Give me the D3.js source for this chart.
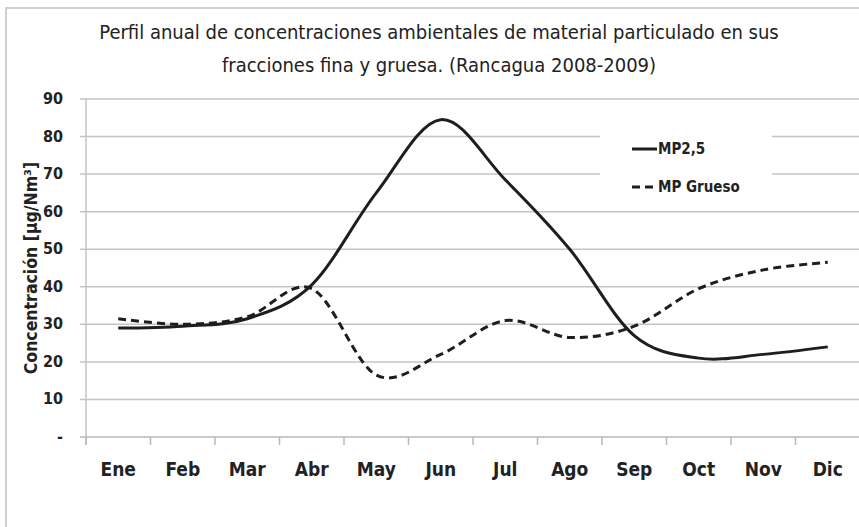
<!DOCTYPE html>
<meta charset="utf-8">
<script src="https://d3js.org/d3.v7.min.js"></script>
<style>
  body { margin: 0; background: #fff; }
  text { font-family: "DejaVu Sans Condensed", "DejaVu Sans", sans-serif; fill: #222; }
</style>
<div id="chart"></div>
<script>
  // data
  const months = ["Ene", "Feb", "Mar", "Abr", "May", "Jun", "Jul", "Ago", "Sep", "Oct", "Nov", "Dic"];
  const mp25 = [29, 29.5, 31.5, 40.5, 65, 84.5, 68.5, 50, 27, 21, 22, 24];
  const mpGrueso = [31.5, 30, 32, 39.5, 16.5, 22, 31, 26.5, 29.5, 39.5, 44.5, 46.5];
  const yTicks = [0, 10, 20, 30, 40, 50, 60, 70, 80, 90];
  const titleLines = ["Perfil anual de concentraciones ambientales de material particulado en sus",
                      "fracciones fina y gruesa. (Rancagua 2008-2009)"];

  const W = 859, H = 527;
  const margin = {top: 99, left: 86, bottom: 90};
  const plotW = 774; // runs past the right edge like the original

  const svg = d3.select("#chart").append("svg")
      .attr("width", W)
      .attr("height", H);

  // outer chart area border
  svg.append("rect")
    .attr("x", 6).attr("y", 8)
    .attr("width", W + 20).attr("height", H + 20)
    .attr("fill", "none")
    .attr("stroke", "#d0d0d0")
    .attr("stroke-width", 2);

  const x = d3.scaleBand()
    .domain(months)
    .range([margin.left, margin.left + plotW]);

  const y = d3.scaleLinear()
    .domain([0, 90])
    .range([H - margin.bottom, margin.top]);

  // gridlines
  svg.append("g")
    .selectAll("line")
    .data(yTicks.slice(1))
    .join("line")
      .attr("x1", margin.left - 6)
      .attr("x2", margin.left + plotW)
      .attr("y1", d => y(d))
      .attr("y2", d => y(d))
      .attr("stroke", "#c4c4c4")
      .attr("stroke-width", 1.5);

  // y axis
  svg.append("line")
    .attr("x1", margin.left).attr("x2", margin.left)
    .attr("y1", y(90)).attr("y2", y(0) + 8)
    .attr("stroke", "#c4c4c4").attr("stroke-width", 1.5);

  svg.append("g")
    .selectAll("text")
    .data(yTicks)
    .join("text")
      .attr("x", margin.left - 23)
      .attr("y", d => y(d) + 5)
      .attr("text-anchor", "end")
      .style("font-size", "16px")
      .style("font-weight", "bold")
      .text(d => d === 0 ? "-" : d);

  // x axis
  svg.append("line")
    .attr("x1", margin.left - 6).attr("x2", margin.left + plotW)
    .attr("y1", y(0)).attr("y2", y(0))
    .attr("stroke", "#b8b8b8").attr("stroke-width", 1.5);

  svg.append("g")
    .selectAll("line")
    .data(months)
    .join("line")
      .attr("x1", d => x(d)).attr("x2", d => x(d))
      .attr("y1", y(0)).attr("y2", y(0) + 8)
      .attr("stroke", "#b8b8b8").attr("stroke-width", 1.5);

  svg.append("g")
    .selectAll("text")
    .data(months)
    .join("text")
      .attr("x", d => x(d) + x.bandwidth() / 2)
      .attr("y", y(0) + 39)
      .attr("text-anchor", "middle")
      .style("font-size", "19px")
      .style("font-weight", "bold")
      .text(d => d);

  // y label
  svg.append("text")
    .attr("transform", `translate(37,${(y(0) + y(90)) / 2}) rotate(-90)`)
    .attr("text-anchor", "middle")
    .style("font-size", "17.5px")
    .style("font-weight", "bold")
    .text("Concentración [µg/Nm³]");

  // title
  svg.append("g")
    .selectAll("text")
    .data(titleLines)
    .join("text")
      .attr("x", 439)
      .attr("y", (d, i) => 39 + i * 33)
      .attr("text-anchor", "middle")
      .style("font-size", "20px")
      .text(d => d);

  // legend box (white, hides gridlines)
  svg.append("rect")
    .attr("x", 600).attr("y", 124)
    .attr("width", 172).attr("height", 82)
    .attr("fill", "#fff");

  const line = d3.line()
    .x((d, i) => x(months[i]) + x.bandwidth() / 2)
    .y(d => y(d))
    .curve(d3.curveCardinal.tension(0));

  svg.append("path")
    .datum(mp25)
    .attr("d", line)
    .attr("fill", "none")
    .attr("stroke", "#1e1e1e")
    .attr("stroke-width", 3);

  svg.append("path")
    .datum(mpGrueso)
    .attr("d", line)
    .attr("fill", "none")
    .attr("stroke", "#1e1e1e")
    .attr("stroke-width", 3)
    .attr("stroke-dasharray", "8,5");

  const legend = [{name: "MP2,5", dash: null}, {name: "MP Grueso", dash: "8,5"}];
  const lg = svg.append("g")
    .selectAll("g")
    .data(legend)
    .join("g")
      .attr("transform", (d, i) => `translate(632,${149 + i * 38})`);

  lg.append("line")
    .attr("x1", 0).attr("x2", 25)
    .attr("stroke", "#1e1e1e")
    .attr("stroke-width", 3)
    .attr("stroke-dasharray", d => d.dash);

  lg.append("text")
    .attr("x", 26).attr("y", 5)
    .style("font-size", "15px")
    .style("font-weight", "bold")
    .text(d => d.name);
</script>
